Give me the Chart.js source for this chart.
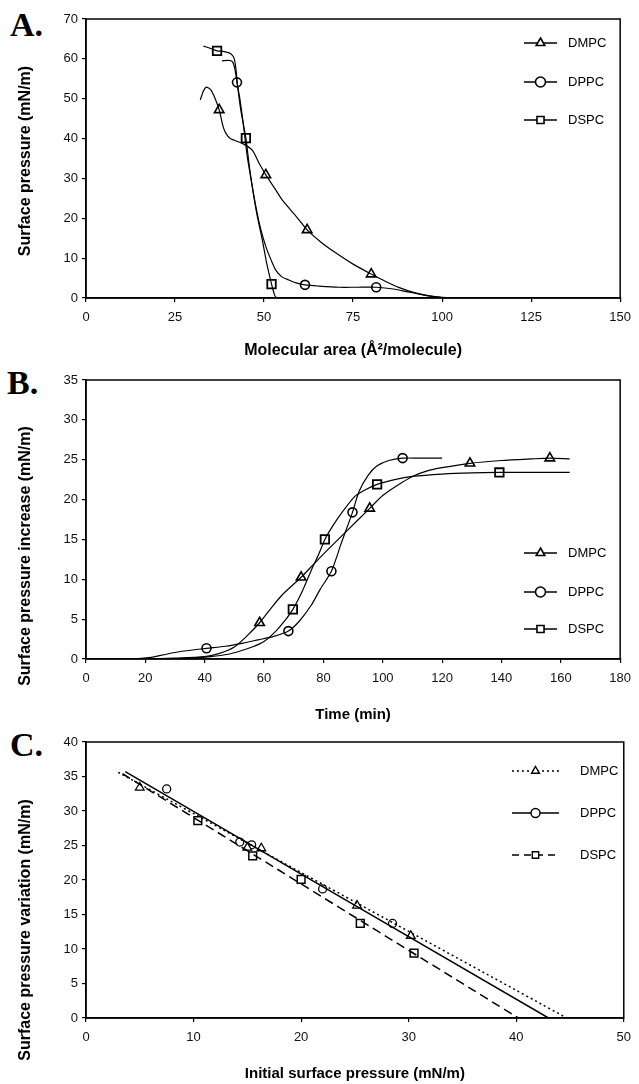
<!DOCTYPE html>
<html lang="en">
<head>
<meta charset="UTF-8">
<script src="https://cdn.jsdelivr.net/npm/chart.js"></script>
<title>Monolayer isotherms</title>
<style>
  body { margin: 0; background: #fff; }
  #page { position: relative; width: 639px; height: 1084px; overflow: hidden; }
  canvas { position: absolute; left: 0; }
  .tag { position: absolute; font-family: "Liberation Serif", "Times New Roman", serif; font-weight: bold; font-size: 34px; line-height: 34px; color: #000; }
</style>
</head>
<body>
<div id="page">
  <div class="tag" style="left:10px; top:8px;">A.</div>
  <div class="tag" style="left:7px; top:366px;">B.</div>
  <div class="tag" style="left:10px; top:728px;">C.</div>
  <canvas id="chartA" width="639" height="362" style="top:0px"></canvas>
  <canvas id="chartB" width="639" height="362" style="top:362px"></canvas>
  <canvas id="chartC" width="639" height="360" style="top:724px"></canvas>
</div>

<script>
// ---- A. compression isotherms ----
const seriesNames = ['DMPC', 'DPPC', 'DSPC'];

const aDmpcX = [32.1, 33.0, 33.8, 35.0, 36.2, 37.4, 38.5, 39.3, 40.5, 43.9, 46.7, 48.6, 50.5, 53.0, 55.1, 59.0, 62.1, 66.0, 70.0, 75.0, 80.1, 84.0, 88.0, 92.0, 96.0, 100.0, 104.5];
const aDmpcY = [49.7, 52.0, 52.9, 52.3, 50.2, 47.2, 43.0, 41.3, 40.0, 38.8, 37.1, 33.8, 30.9, 27.5, 24.6, 20.5, 17.1, 14.0, 11.4, 8.5, 6.0, 4.2, 2.6, 1.4, 0.6, 0.15, 0.0];
const aDppcX = [38.2, 40.0, 41.1, 41.8, 42.4, 43.2, 43.9, 44.6, 45.3, 46.5, 47.7, 49.0, 50.5, 52.0, 53.3, 55.0, 57.0, 59.0, 61.5, 65.4, 71.0, 76.0, 81.5, 86.8, 90.0, 94.0, 97.0, 100.0, 102.0];
const aDppcY = [59.5, 59.6, 59.3, 57.5, 54.1, 50.0, 45.5, 40.5, 35.4, 29.0, 22.9, 17.5, 12.9, 9.5, 7.0, 5.3, 4.5, 3.8, 3.3, 3.0, 2.7, 2.7, 2.7, 2.2, 1.6, 0.9, 0.4, 0.1, 0.0];
const aDspcX = [33.0, 35.0, 36.8, 38.5, 40.2, 41.0, 41.6, 42.1, 42.6, 43.5, 44.9, 45.8, 46.7, 48.0, 49.5, 50.8, 52.1, 52.8, 53.3, 54.5, 56.0];
const aDspcY = [63.2, 62.6, 62.0, 61.9, 61.5, 61.0, 60.1, 57.5, 53.0, 47.0, 40.1, 33.5, 27.9, 21.0, 14.6, 8.5, 3.5, 1.2, 0.2, 0.05, 0.0];
const aDmpcMarkX = [37.4, 50.5, 62.1, 80.1];
const aDmpcMarkY = [47.2, 30.9, 17.1, 6.0];
const aDppcMarkX = [42.4, 61.5, 81.5];
const aDppcMarkY = [54.1, 3.3, 2.7];
const aDspcMarkX = [36.8, 44.9, 52.1];
const aDspcMarkY = [62.0, 40.1, 3.5];

// ---- B. adsorption kinetics ----
const bDmpcX = [0, 20, 30, 40, 45, 50, 54, 58.5, 62, 66, 72.5, 77, 82, 88, 95.6, 100, 105, 110, 115, 120, 129.4, 140, 150, 156.3, 163];
const bDmpcY = [0, 0, 0.1, 0.3, 0.7, 1.5, 2.8, 4.55, 6.2, 8.0, 10.25, 12.0, 13.9, 16.1, 18.9, 20.5, 21.8, 22.9, 23.6, 24.0, 24.55, 24.9, 25.1, 25.2, 25.1];
const bDppcX = [0, 15, 22, 27, 33, 40.6, 47, 53, 58, 63, 68.2, 72, 76, 79, 82.7, 86, 89.8, 92, 95, 98, 102, 106.7, 112, 120];
const bDppcY = [0, 0, 0.2, 0.6, 1.0, 1.34, 1.6, 2.0, 2.4, 2.8, 3.5, 4.8, 6.8, 8.8, 11.0, 14.5, 18.4, 21.0, 23.0, 24.2, 24.9, 25.2, 25.2, 25.2];
const bDspcX = [0, 25, 35, 42, 48, 52, 56, 60, 64, 67, 69.7, 73, 76, 78.5, 80.5, 83, 86.1, 90.6, 94, 98.1, 104, 110, 120, 130, 139.3, 150, 163];
const bDspcY = [0, 0, 0.1, 0.3, 0.6, 1.0, 1.5, 2.2, 3.5, 4.8, 6.23, 8.6, 11.2, 13.2, 15.0, 16.6, 18.3, 20.4, 21.2, 21.9, 22.5, 22.9, 23.2, 23.35, 23.4, 23.4, 23.4];
const bDmpcMarkX = [58.5, 72.5, 95.6, 129.4, 156.3];
const bDmpcMarkY = [4.55, 10.25, 18.9, 24.55, 25.2];
const bDppcMarkX = [40.6, 68.2, 82.7, 89.8, 106.7];
const bDppcMarkY = [1.34, 3.5, 11.0, 18.4, 25.2];
const bDspcMarkX = [69.7, 80.5, 98.1, 139.3];
const bDspcMarkY = [6.23, 15.0, 21.9, 23.4];

// ---- C. pressure variation vs initial pressure ----
const cDmpcX = [5.0, 15.0, 16.3, 25.2, 30.2];
const cDmpcY = [33.4, 24.7, 24.6, 16.3, 11.9];
const cDppcX = [7.5, 14.3, 15.4, 22.0, 28.5];
const cDppcY = [33.2, 25.5, 25.1, 18.7, 13.7];
const cDspcX = [10.4, 15.5, 20.0, 25.5, 30.5];
const cDspcY = [28.6, 23.5, 20.1, 13.7, 9.4];
const cDmpcFitX = [3.0, 44.7];
const cDmpcFitY = [35.6, 0];
const cDppcFitX = [3.65, 43.0];
const cDppcFitY = [35.7, 0];
const cDspcFitX = [3.4, 40.2];
const cDspcFitY = [35.4, 0];

const markerStyles = ['triangle', 'circle', 'rect'];

Chart.defaults.font.family = "Arial, 'Liberation Sans', sans-serif";
Chart.defaults.color = '#111';

function pts(xs, ys) { return xs.map((x, i) => ({ x: x, y: ys[i] })); }

function curve(xs, ys, dash, width) {
  return { data: pts(xs, ys), showLine: true, pointRadius: 0, borderColor: '#000', borderWidth: width || 1.2, borderDash: dash || [], tension: 0.25, fill: false };
}
function marks(xs, ys, style, r, bw) {
  return { data: pts(xs, ys), showLine: false, pointStyle: style, pointRadius: r, borderWidth: bw, pointBorderColor: '#000', pointBackgroundColor: '#fff', borderColor: '#000' };
}

function drawMarker(ctx, style, x, y, r) {
  ctx.beginPath();
  if (style === 'circle') {
    ctx.arc(x, y, r, 0, Math.PI * 2);
  } else if (style === 'triangle') {
    let a = 0;
    ctx.moveTo(x + Math.sin(a) * r, y - Math.cos(a) * r);
    a += Math.PI * 2 / 3;
    ctx.lineTo(x + Math.sin(a) * r, y - Math.cos(a) * r);
    a += Math.PI * 2 / 3;
    ctx.lineTo(x + Math.sin(a) * r, y - Math.cos(a) * r);
    ctx.closePath();
  } else {
    const s = r * Math.SQRT1_2;
    ctx.rect(x - s, y - s, 2 * s, 2 * s);
  }
  ctx.fill();
  ctx.stroke();
}

// frame, y title and legend inside the plot
const decor = {
  id: 'decor',
  afterDraw(chart, args, o) {
    const ctx = chart.ctx, a = chart.chartArea;
    ctx.save();
    ctx.strokeStyle = '#000';
    ctx.lineWidth = 1.5;
    ctx.strokeRect(a.left, a.top, a.right - a.left, a.bottom - a.top);

    ctx.fillStyle = '#000';
    ctx.font = 'bold 16px Arial, "Liberation Sans", sans-serif';
    ctx.textAlign = 'center';
    ctx.textBaseline = 'middle';
    ctx.translate(o.yTitleX, o.yTitleY);
    ctx.rotate(-Math.PI / 2);
    ctx.fillText(o.yTitle, 0, 0);
    ctx.restore();

    ctx.save();
    ctx.font = '13px Arial, "Liberation Sans", sans-serif';
    ctx.textBaseline = 'middle';
    seriesNames.forEach((name, i) => {
      const y = o.legendY[i];
      ctx.strokeStyle = '#000';
      ctx.lineWidth = o.legendLine;
      ctx.setLineDash(o.dashes ? o.dashes[i] : []);
      ctx.beginPath();
      ctx.moveTo(o.legendX1, y);
      ctx.lineTo(o.legendX2, y);
      ctx.stroke();
      ctx.setLineDash([]);
      ctx.lineWidth = o.markerBorder;
      ctx.fillStyle = '#fff';
      drawMarker(ctx, markerStyles[i], (o.legendX1 + o.legendX2) / 2, y, o.markerRadius);
      ctx.fillStyle = '#000';
      ctx.fillText(name, o.legendTextX, y);
    });
    ctx.restore();
  }
};

function axes(xMin, xMax, xStep, yMin, yMax, yStep, xTitle, xTitleSize, xTitlePad, plotBottom, canvasH) {
  const grid = { display: true, drawOnChartArea: false, drawTicks: true, tickLength: 4, color: '#000', lineWidth: 1.2 };
  const border = { display: true, color: '#000', width: 1.5 };
  return {
    x: {
      type: 'linear', min: xMin, max: xMax,
      ticks: { stepSize: xStep, autoSkip: false, maxRotation: 0, padding: 8, font: { size: 13 }, color: '#111' },
      grid: grid, border: border,
      title: { display: true, text: xTitle, font: { size: xTitleSize, weight: 'bold' }, color: '#000', padding: { top: 0, bottom: xTitlePad } },
      afterFit(s) { s.height = canvasH - plotBottom; }
    },
    y: {
      type: 'linear', min: yMin, max: yMax,
      ticks: { stepSize: yStep, autoSkip: false, padding: 4, font: { size: 13 }, color: '#111' },
      grid: grid, border: border,
      afterFit(s) { s.width = 86; }
    }
  };
}

function baseOptions(scales, padding, decorOpts) {
  return {
    responsive: false,
    animation: false,
    layout: { padding: padding },
    scales: scales,
    plugins: { legend: { display: false }, tooltip: { enabled: false }, decor: decorOpts }
  };
}

new Chart(document.getElementById('chartA'), {
  type: 'scatter',
  data: {
    datasets: [
      curve(aDmpcX, aDmpcY), curve(aDppcX, aDppcY), curve(aDspcX, aDspcY),
      marks(aDmpcMarkX, aDmpcMarkY, 'triangle', 5.5, 1.6),
      marks(aDppcMarkX, aDppcMarkY, 'circle', 4.5, 1.6),
      marks(aDspcMarkX, aDspcMarkY, 'rect', 6, 1.8)
    ]
  },
  options: baseOptions(
    axes(0, 150, 25, 0, 70, 10, 'Molecular area (Å²/molecule)', 16, 2, 298, 362),
    { top: 19, right: 16, left: 0, bottom: 0 },
    { yTitle: 'Surface pressure (mN/m)', yTitleX: 26, yTitleY: 161, legendY: [43, 82, 120], legendX1: 524, legendX2: 557, legendTextX: 568, legendLine: 1.4, markerRadius: 5, markerBorder: 1.6 }
  ),
  plugins: [decor]
});

new Chart(document.getElementById('chartB'), {
  type: 'scatter',
  data: {
    datasets: [
      curve(bDmpcX, bDmpcY), curve(bDppcX, bDppcY), curve(bDspcX, bDspcY),
      marks(bDmpcMarkX, bDmpcMarkY, 'triangle', 5.5, 1.6),
      marks(bDppcMarkX, bDppcMarkY, 'circle', 4.5, 1.6),
      marks(bDspcMarkX, bDspcMarkY, 'rect', 6, 1.8)
    ]
  },
  options: baseOptions(
    axes(0, 180, 20, 0, 35, 5, 'Time (min)', 15, 0, 297, 362),
    { top: 18, right: 15, left: 0, bottom: 0 },
    { yTitle: 'Surface pressure increase (mN/m)', yTitleX: 26, yTitleY: 194, legendY: [191, 230, 267], legendX1: 524, legendX2: 557, legendTextX: 568, legendLine: 1.4, markerRadius: 5, markerBorder: 1.6 }
  ),
  plugins: [decor]
});

new Chart(document.getElementById('chartC'), {
  type: 'scatter',
  data: {
    datasets: [
      curve(cDmpcFitX, cDmpcFitY, [2, 3], 1.5),
      curve(cDppcFitX, cDppcFitY, [], 1.5),
      curve(cDspcFitX, cDspcFitY, [9, 5], 1.5),
      marks(cDmpcX, cDmpcY, 'triangle', 5, 1.3),
      marks(cDppcX, cDppcY, 'circle', 4, 1.3),
      marks(cDspcX, cDspcY, 'rect', 5.5, 1.5)
    ]
  },
  options: baseOptions(
    axes(0, 50, 10, 0, 40, 5, 'Initial surface pressure (mN/m)', 15, 1, 294, 360),
    { top: 18, right: 10, left: 0, bottom: 0 },
    { yTitle: 'Surface pressure variation (mN/m)', yTitleX: 26, yTitleY: 206, legendY: [47, 89, 131], legendX1: 512, legendX2: 559, legendTextX: 580, legendLine: 1.5, markerRadius: 4.5, markerBorder: 1.4, dashes: [[2, 3], [], [7, 5]] }
  ),
  plugins: [decor]
});
</script>
</body>
</html>
